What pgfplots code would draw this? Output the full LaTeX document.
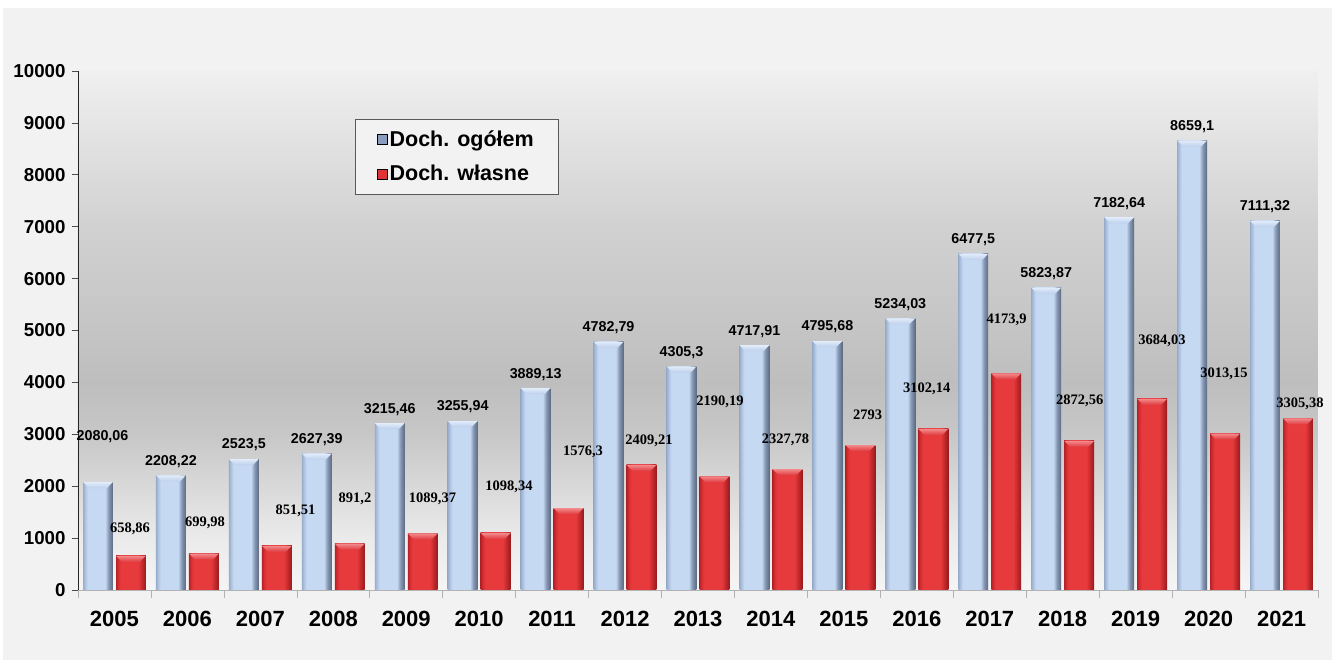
\documentclass[border=0pt]{standalone}
\usepackage{pgfplots}
\pgfplotsset{compat=1.18}
\usepackage{pgfplotstable}
\usepackage{fontspec}
\setmainfont{Liberation Sans}
\newfontfamily\serifb{Liberation Serif}

\definecolor{outerbg}{HTML}{F2F2F2}
\definecolor{bL}{HTML}{98ADCB}
\definecolor{bM}{HTML}{B2C6E4}
\definecolor{bC}{HTML}{C6D9F3}
\definecolor{bR1}{HTML}{8496B2}
\definecolor{bR}{HTML}{5C6A80}
\definecolor{rL}{HTML}{B52226}
\definecolor{rM}{HTML}{D83034}
\definecolor{rC}{HTML}{E63A3D}
\definecolor{rR1}{HTML}{C42A2D}
\definecolor{rR}{HTML}{981A1D}
\definecolor{legblue}{HTML}{8A9DBF}
\definecolor{legred}{HTML}{E03336}
\definecolor{capBt}{HTML}{E2ECFA}
\definecolor{capBb}{HTML}{BCCFEB}
\definecolor{capRt}{HTML}{F28A8C}
\definecolor{capRb}{HTML}{E03A3E}

\pgfdeclarehorizontalshading{bluebar}{100bp}{color(0bp)=(bL); color(25bp)=(bL); color(29bp)=(bM); color(33bp)=(bC); color(62bp)=(bC); color(68bp)=(bR1); color(75bp)=(bR); color(100bp)=(bR)}
\pgfdeclarehorizontalshading{redbar}{100bp}{color(0bp)=(rL); color(25bp)=(rL); color(29bp)=(rM); color(33bp)=(rC); color(62bp)=(rC); color(68bp)=(rR1); color(75bp)=(rR); color(100bp)=(rR)}
\pgfdeclareverticalshading{plotbg}{100bp}{color(0bp)=(white!96!black); color(25bp)=(white!96!black); color(30bp)=(white!92!black); color(35bp)=(white!85!black); color(40bp)=(white!78!black); color(45bp)=(white!74.5!black); color(50bp)=(white!77!black); color(60bp)=(white!82!black); color(70bp)=(white!90!black); color(75bp)=(white!94!black); color(100bp)=(white!94!black)}

\pgfdeclareplotmark{capB}{\shade[draw=none, top color=capBt, bottom color=capBb] (-14.9pt,0pt) -- (14.9pt,0pt) -- (9pt,-6pt) -- (-9pt,-6pt) -- cycle;}
\pgfdeclareplotmark{capR}{\shade[draw=none, top color=capRt, bottom color=capRb] (-14.9pt,0pt) -- (14.9pt,0pt) -- (9pt,-6pt) -- (-9pt,-6pt) -- cycle;}

\pgfplotstableread{
x b r
0 2080.06 658.86
1 2208.22 699.98
2 2523.5 851.51
3 2627.39 891.2
4 3215.46 1089.37
5 3255.94 1098.34
6 3889.13 1576.3
7 4782.79 2409.21
8 4305.3 2190.19
9 4717.91 2327.78
10 4795.68 2793
11 5234.03 3102.14
12 6477.5 4173.9
13 5823.87 2872.56
14 7182.64 3684.03
15 8659.1 3013.15
16 7111.32 3305.38
}\data

\pgfplotstableread{
x y lab
-0.164 2948 2080,06
0.774 2478 2208,22
1.774 2794 2523,5
2.774 2897 2627,39
3.774 3485 3215,46
4.774 3526 3255,94
5.774 4159 3889,13
6.774 5053 4782,79
7.774 4575 4305,3
8.774 4988 4717,91
9.774 5066 4795,68
10.774 5504 5234,03
11.774 6748 6477,5
12.774 6094 5823,87
13.774 7453 7182,64
14.774 8929 8659,1
15.774 7381 7111,32
}\bluelab

\pgfplotstableread{
x y lab
0.213 1175 658,86
1.241 1291 699,98
2.482 1522 851,51
3.298 1753 891,2
4.360 1753 1089,37
5.409 1985 1098,34
6.423 2659 1576,3
7.328 2871 2409,21
8.302 3622 2190,19
9.200 2890 2327,78
10.324 3372 2793
11.136 3873 3102,14
12.232 5202 4173,9
13.233 3647 2872,56
14.362 4803 3684,03
15.212 4162 3013,15
16.253 3584 3305,38
}\redlab

\begin{document}
\begin{tikzpicture}
\fill[white] (-78pt,-70pt) rectangle (1254pt,590pt);
\fill[outerbg] (-75pt,-70pt) rectangle (1254pt,582pt);
\begin{axis}[
  at={(0pt,0pt)}, anchor=south west,
  scale only axis, width=1240pt, height=519pt,
  xmin=-0.5, xmax=16.5, ymin=0, ymax=10000,
  axis x line*=bottom, axis y line*=left,
  axis background/.style={shade, shading=plotbg},
  clip=false,
  ytick={0,1000,...,10000},
  scaled y ticks=false,
  ytick align=outside, major tick length=6pt,
  y tick style={gray!60!black, line width=0.6pt},
  y axis line style={black!85, line width=0.8pt},
  x axis line style={gray!60, line width=0.8pt},
  /pgf/number format/assume math mode=true,
  /pgf/number format/fixed,
  /pgf/number format/1000 sep={},
  yticklabel style={font=\fontsize{18.7}{20}\selectfont\bfseries, xshift=-3pt},
  xtick={0,...,16},
  xticklabels={2005,2006,2007,2008,2009,2010,2011,2012,2013,2014,2015,2016,2017,2018,2019,2020,2021},
  major x tick style={draw=none},
  minor xtick={-0.5,0.5,...,16.5},
  xminorticks=true,
  minor x tick style={gray!60, line width=0.6pt},
  minor tick length=8pt,
  xtick align=outside,
  xticklabel style={font=\fontsize{22}{24}\selectfont\bfseries, yshift=-12pt},
  legend image code/.code={\fill[#1] (0pt,-5pt) rectangle (10pt,5pt);},
  legend style={at={(0.223,0.907)}, anchor=north west, draw=gray!70!black, fill=outerbg,
    font=\fontsize{21.5}{24}\selectfont\bfseries, inner xsep=22pt, inner ysep=9pt,
    row sep=12pt, nodes={inner sep=2.5pt}},
  legend cell align=left,
]
\pgfplotsinvokeforeach{0,...,16}{
\addplot[ybar, bar width=0.41, bar shift=-0.226, draw=none, shade, shading=bluebar, forget plot,
  restrict x to domain=#1:#1] table[x=x,y=b] \data;
\addplot[ybar, bar width=0.41, bar shift=0.226, draw=none, shade, shading=redbar, forget plot,
  restrict x to domain=#1:#1] table[x=x,y=r] \data;
}
\addplot[only marks, draw=none, mark=capB, forget plot] table[x expr=\thisrow{x}-0.226, y=b] \data;
\addplot[only marks, draw=none, mark=capR, forget plot] table[x expr=\thisrow{x}+0.226, y=r] \data;
\addplot[draw=none, mark=none, forget plot, nodes near coords, point meta=explicit symbolic,
  nodes near coords align={anchor=center},
  every node near coord/.append style={font=\fontsize{14.3}{16}\selectfont\bfseries, inner sep=0pt}]
  table[x=x,y=y,meta=lab] \bluelab;
\addplot[draw=none, mark=none, forget plot, nodes near coords, point meta=explicit symbolic,
  nodes near coords align={anchor=center},
  every node near coord/.append style={font=\serifb\fontsize{14.5}{16}\selectfont\bfseries, inner sep=0pt}]
  table[x=x,y=y,meta=lab] \redlab;
\addlegendimage{fill=legblue}
\addlegendentry{Doch. ogółem}
\addlegendimage{fill=legred}
\addlegendentry{Doch. własne}
\end{axis}
\pgfresetboundingbox
\path (-78pt,-70pt) rectangle (1254pt,590pt);
\end{tikzpicture}
\end{document}
